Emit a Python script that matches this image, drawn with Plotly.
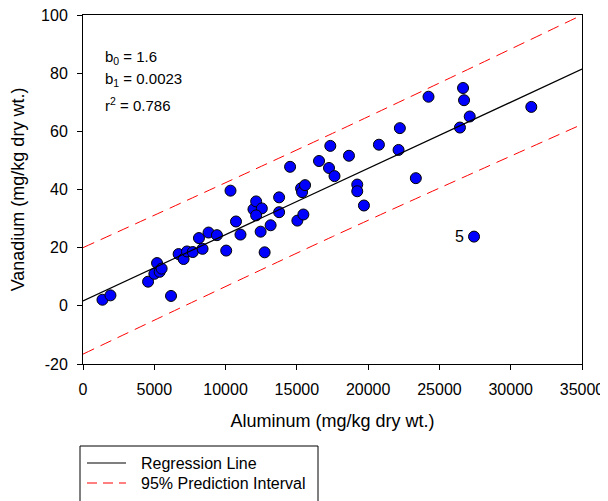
import plotly.graph_objects as go

# Observed data (Aluminum vs Vanadium, mg/kg dry wt.)
aluminum = [1365, 1925, 4564, 5005, 5194, 5376, 5516, 6174, 6706, 7056,
            7294, 7700, 8134, 8386, 8806, 9394, 10045, 10346, 10731, 11046,
            11956, 12145, 12544, 12145, 12460, 12740, 13160, 13755, 13755, 14525,
            15036, 15456, 15295, 15365, 15575, 16555, 17255, 17640, 17346, 18655,
            19236, 19236, 19705, 20755, 22225, 22134, 23345, 24234, 26656, 26726,
            27125, 26439, 31444, 27426]
vanadium = [2.1, 3.6, 8.3, 11.0, 14.7, 11.7, 12.8, 3.4, 17.8, 16.1,
            18.7, 18.5, 23.3, 19.6, 25.2, 24.3, 19.0, 39.6, 29.0, 24.5,
            33.2, 35.9, 33.5, 31.1, 25.5, 18.4, 27.7, 37.3, 32.2, 47.8,
            29.3, 31.4, 40.4, 39.1, 41.5, 49.8, 47.4, 44.6, 55.0, 51.6,
            41.7, 39.4, 34.5, 55.4, 61.1, 53.6, 43.9, 71.9, 74.9, 70.7,
            65.1, 61.3, 68.4, 23.8]

# Regression line and 95% prediction interval
line_x = [0, 35000]
line_y = [1.7, 81.4]
pi_x = [0, 17500, 35000]
pi_upper = [20.0, 59.3, 100.0]
pi_lower = [-16.6, 23.8, 62.4]

outlier_label = "5"
outlier_x = 27426
outlier_y = 23.8

legend_labels = ["Regression Line", "95% Prediction Interval"]

x_ticks = [0, 5000, 10000, 15000, 20000, 25000, 30000, 35000]
x_tick_labels = ["0", "5000", "10000", "15000", "20000", "25000", "30000", "35000"]
y_ticks = [-20, 0, 20, 40, 60, 80, 100]
y_tick_labels = ["-20", "0", "20", "40", "60", "80", "100"]

FONT = "Liberation Sans, Arial, sans-serif"
RED_DASH = "12px,7px"

# Figure geometry (the page body adds an 8px offset, so figure is 600x493)
W, H = 600, 493
ML, MR, MT, MB = 75, 26, 7, 137
PW, PH = W - ML - MR, H - MT - MB


def px(fx):
    """figure pixel x -> paper x"""
    return (fx - ML) / PW


def py(fy):
    """figure pixel y (from top) -> paper y"""
    return (MT + PH - fy) / PH


fig = go.Figure()

fig.add_trace(go.Scatter(
    x=aluminum, y=vanadium, mode="markers", showlegend=False,
    marker=dict(size=11, color="#0000FF", line=dict(color="black", width=1)),
))
fig.add_trace(go.Scatter(
    x=line_x, y=line_y, mode="lines", name=legend_labels[0], showlegend=False,
    line=dict(color="black", width=1.2),
))
fig.add_trace(go.Scatter(
    x=pi_x, y=pi_upper, mode="lines", name=legend_labels[1], showlegend=False,
    line=dict(color="#FF0000", width=1, dash=RED_DASH, shape="spline"),
))
fig.add_trace(go.Scatter(
    x=pi_x, y=pi_lower, mode="lines", name=legend_labels[1], showlegend=False,
    line=dict(color="#FF0000", width=1, dash=RED_DASH, shape="spline"),
))

annots = [
    dict(text="b<sub>0</sub> = 1.6", y=0.8776),
    dict(text="b<sub>1</sub> = 0.0023", y=0.816),
    dict(text="r<sup>2</sup> = 0.786", y=0.7446),
]
for a in annots:
    fig.add_annotation(text=a["text"], xref="paper", yref="paper", x=0.040, y=a["y"],
                       xanchor="left", yanchor="middle", showarrow=False,
                       font=dict(size=15, color="black", family=FONT))

fig.add_annotation(text=outlier_label, x=outlier_x, y=outlier_y, xanchor="right",
                   yanchor="middle", xshift=-8, showarrow=False,
                   font=dict(size=16, color="black", family=FONT))

# Legend box (drawn manually so it can run off the bottom edge like the reference)
fig.add_shape(type="rect", xref="paper", yref="paper",
              x0=px(72), x1=px(310), y0=py(438), y1=py(505),
              line=dict(color="black", width=1), fillcolor="white", layer="above")
legend_rows = [(455, dict(color="black", width=1.2)),
               (475, dict(color="#FF0000", width=1, dash="10px,6px"))]
for label, (fy, ln) in zip(legend_labels, legend_rows):
    fig.add_shape(type="line", xref="paper", yref="paper",
                  x0=px(79), x1=px(118), y0=py(fy), y1=py(fy), line=ln, layer="above")
    fig.add_annotation(text=label, xref="paper", yref="paper", x=px(131), y=py(fy),
                       xanchor="left", yanchor="middle", showarrow=False,
                       font=dict(size=16, color="black", family=FONT))

axis_common = dict(showline=True, linecolor="black", linewidth=1, mirror=True,
                   ticks="outside", ticklen=5, tickcolor="black", tickwidth=1,
                   showgrid=False, zeroline=False, automargin=False,
                   ticklabeloverflow="allow",
                   tickfont=dict(size=16, color="black", family=FONT))

fig.update_xaxes(range=[0, 35000], tickvals=x_ticks, ticktext=x_tick_labels,
                 ticklabelstandoff=6,
                 title=dict(text="Aluminum (mg/kg dry wt.)", standoff=17,
                            font=dict(size=18, color="black", family=FONT)),
                 **axis_common)
fig.update_yaxes(range=[-20, 100], tickvals=y_ticks, ticktext=y_tick_labels,
                 ticklabelstandoff=6,
                 title=dict(text="Vanadium (mg/kg dry wt.)", standoff=14,
                            font=dict(size=18, color="black", family=FONT)),
                 **axis_common)

fig.update_layout(
    width=W, height=H,
    margin=dict(l=ML, r=MR, t=MT, b=MB),
    plot_bgcolor="white", paper_bgcolor="white",
    font=dict(family=FONT, color="black"),
    showlegend=False,
)

fig.write_html("out.html")
